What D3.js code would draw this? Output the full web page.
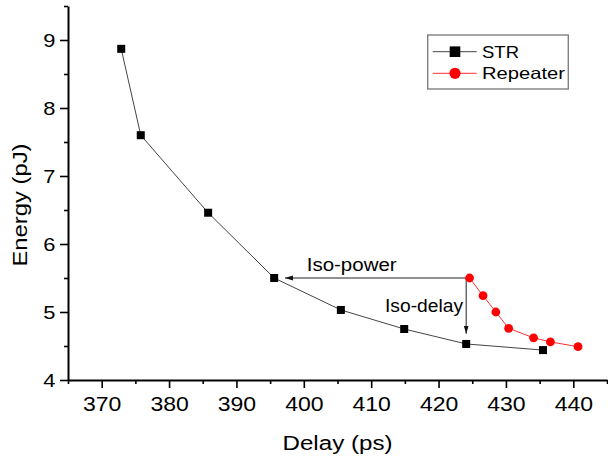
<!DOCTYPE html>
<html><head><meta charset="utf-8">
<script src="https://cdn.jsdelivr.net/npm/d3@7"></script>
<style>
body{margin:0;background:#fff}
svg{display:block}
text{font-family:"Liberation Sans",Arial,Helvetica,sans-serif;fill:#000}
</style>
</head><body>
<svg id="c" width="608" height="456"></svg>
<script>
// ---- data ----
const strDelay  = [372.9, 375.8, 385.8, 395.6, 405.5, 414.9, 424.1, 435.5];
const strEnergy = [8.87, 7.60, 6.46, 5.50, 5.03, 4.75, 4.53, 4.44];
const repDelay  = [424.6, 426.6, 428.5, 430.4, 434.1, 436.6, 440.7];
const repEnergy = [5.50, 5.24, 5.00, 4.76, 4.62, 4.56, 4.49];
const xTicks = [370, 380, 390, 400, 410, 420, 430, 440];
const xMinorTicks = [365, 375, 385, 395, 405, 415, 425, 435, 445];
const yTicks = [4, 5, 6, 7, 8, 9];
const yMinorTicks = [4.5, 5.5, 6.5, 7.5, 8.5, 9.5];
const seriesNames = ["STR", "Repeater"];
const xTitle = "Delay (ps)";
const yTitle = "Energy (pJ)";
// annotation arrows: [fromDelay, fromEnergy, toDelay, toEnergy, label]
const isoPower = [424.6, 5.50, 397.2, 5.50, "Iso-power"];
const isoDelay = [424.1, 5.50, 424.1, 4.68, "Iso-delay"];

// ---- chart ----
const svg = d3.select("#c");
const x = d3.scaleLinear().domain([365, 445]).range([68, 607]);
const y = d3.scaleLinear().domain([4, 9.5]).range([380, 6]);

function stretch(sel, k) {
  sel.each(function () {
    const w = this.getComputedTextLength();
    d3.select(this).attr("textLength", w * k).attr("lengthAdjust", "spacingAndGlyphs");
  });
}

// minor ticks
svg.append("g").attr("transform", "translate(0,380)")
  .call(d3.axisBottom(x).tickValues(xMinorTicks).tickSize(4).tickSizeOuter(0).tickFormat(""))
  .call(g => g.select(".domain").remove())
  .call(g => g.selectAll("line").attr("stroke", "#000").attr("stroke-width", 1.6));
svg.append("g").attr("transform", "translate(68,0)")
  .call(d3.axisLeft(y).tickValues(yMinorTicks).tickSize(4).tickSizeOuter(0).tickFormat(""))
  .call(g => g.select(".domain").remove())
  .call(g => g.selectAll("line").attr("stroke", "#000").attr("stroke-width", 1.6));

// major axes
const gx = svg.append("g").attr("transform", "translate(0,380)")
  .call(d3.axisBottom(x).tickValues(xTicks).tickSize(8).tickSizeOuter(0).tickPadding(8.5).tickFormat(d3.format("d")));
gx.select(".domain").attr("stroke", "#000").attr("stroke-width", 2);
gx.selectAll("line").attr("stroke", "#000").attr("stroke-width", 1.6);
gx.selectAll("text").attr("font-size", 20).attr("font-family", null).call(stretch, 1.15);

const gy = svg.append("g").attr("transform", "translate(68,0)")
  .call(d3.axisLeft(y).tickValues(yTicks).tickSize(8).tickSizeOuter(0).tickPadding(4.5).tickFormat(d3.format("d")));
gy.select(".domain").attr("stroke", "#000").attr("stroke-width", 2);
gy.selectAll("line").attr("stroke", "#000").attr("stroke-width", 1.6);
gy.selectAll("text").attr("font-size", 19).attr("font-family", null).call(stretch, 1.15);

// axis titles
svg.append("text").attr("x", 337.5).attr("y", 450).attr("text-anchor", "middle")
  .attr("font-size", 20).attr("textLength", 110).attr("lengthAdjust", "spacingAndGlyphs").text(xTitle);
svg.append("text").attr("transform", "translate(26.5,205) rotate(-90)").attr("text-anchor", "middle")
  .attr("font-size", 20).attr("textLength", 123).attr("lengthAdjust", "spacingAndGlyphs").text(yTitle);

// series
const strData = strDelay.map((d, i) => [d, strEnergy[i]]);
const repData = repDelay.map((d, i) => [d, repEnergy[i]]);
const line = d3.line().x(d => x(d[0])).y(d => y(d[1]));

svg.append("path").datum(strData).attr("d", line).attr("fill", "none")
  .attr("stroke", "#444").attr("stroke-width", 1);
svg.append("path").datum(repData).attr("d", line).attr("fill", "none")
  .attr("stroke", "#ff3030").attr("stroke-width", 1);

// arrows
const defs = svg.append("defs");
defs.append("marker").attr("id", "ah").attr("viewBox", "0 0 10 6")
  .attr("refX", 10).attr("refY", 3).attr("markerUnits", "userSpaceOnUse")
  .attr("markerWidth", 8).attr("markerHeight", 5.4).attr("orient", "auto")
  .append("path").attr("d", "M0,0 L10,3 L0,6 Z").attr("fill", "#111");
[isoPower, isoDelay].forEach(a => {
  svg.append("line").attr("x1", x(a[0])).attr("y1", y(a[1])).attr("x2", x(a[2])).attr("y2", y(a[3]))
    .attr("stroke", "#222").attr("stroke-width", 1).attr("marker-end", "url(#ah)");
});
svg.append("text").attr("x", 306.7).attr("y", 271).attr("font-size", 17.5)
  .attr("textLength", 90).attr("lengthAdjust", "spacingAndGlyphs").text(isoPower[4]);
svg.append("text").attr("x", 385).attr("y", 311.7).attr("font-size", 17.5)
  .attr("textLength", 78).attr("lengthAdjust", "spacingAndGlyphs").text(isoDelay[4]);

// markers
svg.append("g").selectAll("rect").data(strData).join("rect")
  .attr("x", d => x(d[0]) - 4).attr("y", d => y(d[1]) - 4)
  .attr("width", 8).attr("height", 8).attr("fill", "#000");
svg.append("g").selectAll("circle").data(repData).join("circle")
  .attr("cx", d => x(d[0])).attr("cy", d => y(d[1])).attr("r", 4.4).attr("fill", "#ff0000");

// legend
const lg = svg.append("g");
lg.append("rect").attr("x", 427.7).attr("y", 35).attr("width", 140.6).attr("height", 54)
  .attr("fill", "#fff").attr("stroke", "#808080").attr("stroke-width", 1.4);
const rows = [51.7, 73.3];
const colors = ["#444", "#ff3030"];
rows.forEach((ry, i) => {
  lg.append("line").attr("x1", 432.7).attr("x2", 476.7).attr("y1", ry).attr("y2", ry)
    .attr("stroke", colors[i]).attr("stroke-width", 1);
  if (i === 0) {
    lg.append("rect").attr("x", 455 - 5.3).attr("y", ry - 5.3).attr("width", 10.6).attr("height", 10.6).attr("fill", "#000");
  } else {
    lg.append("circle").attr("cx", 455).attr("cy", ry).attr("r", 5.6).attr("fill", "#ff0000");
  }
  lg.append("text").attr("x", 482).attr("y", ry + 5.8).attr("font-size", 16.5)
    .attr("textLength", i === 0 ? 37 : 83).attr("lengthAdjust", "spacingAndGlyphs").text(seriesNames[i]);
});
</script>
</body></html>
